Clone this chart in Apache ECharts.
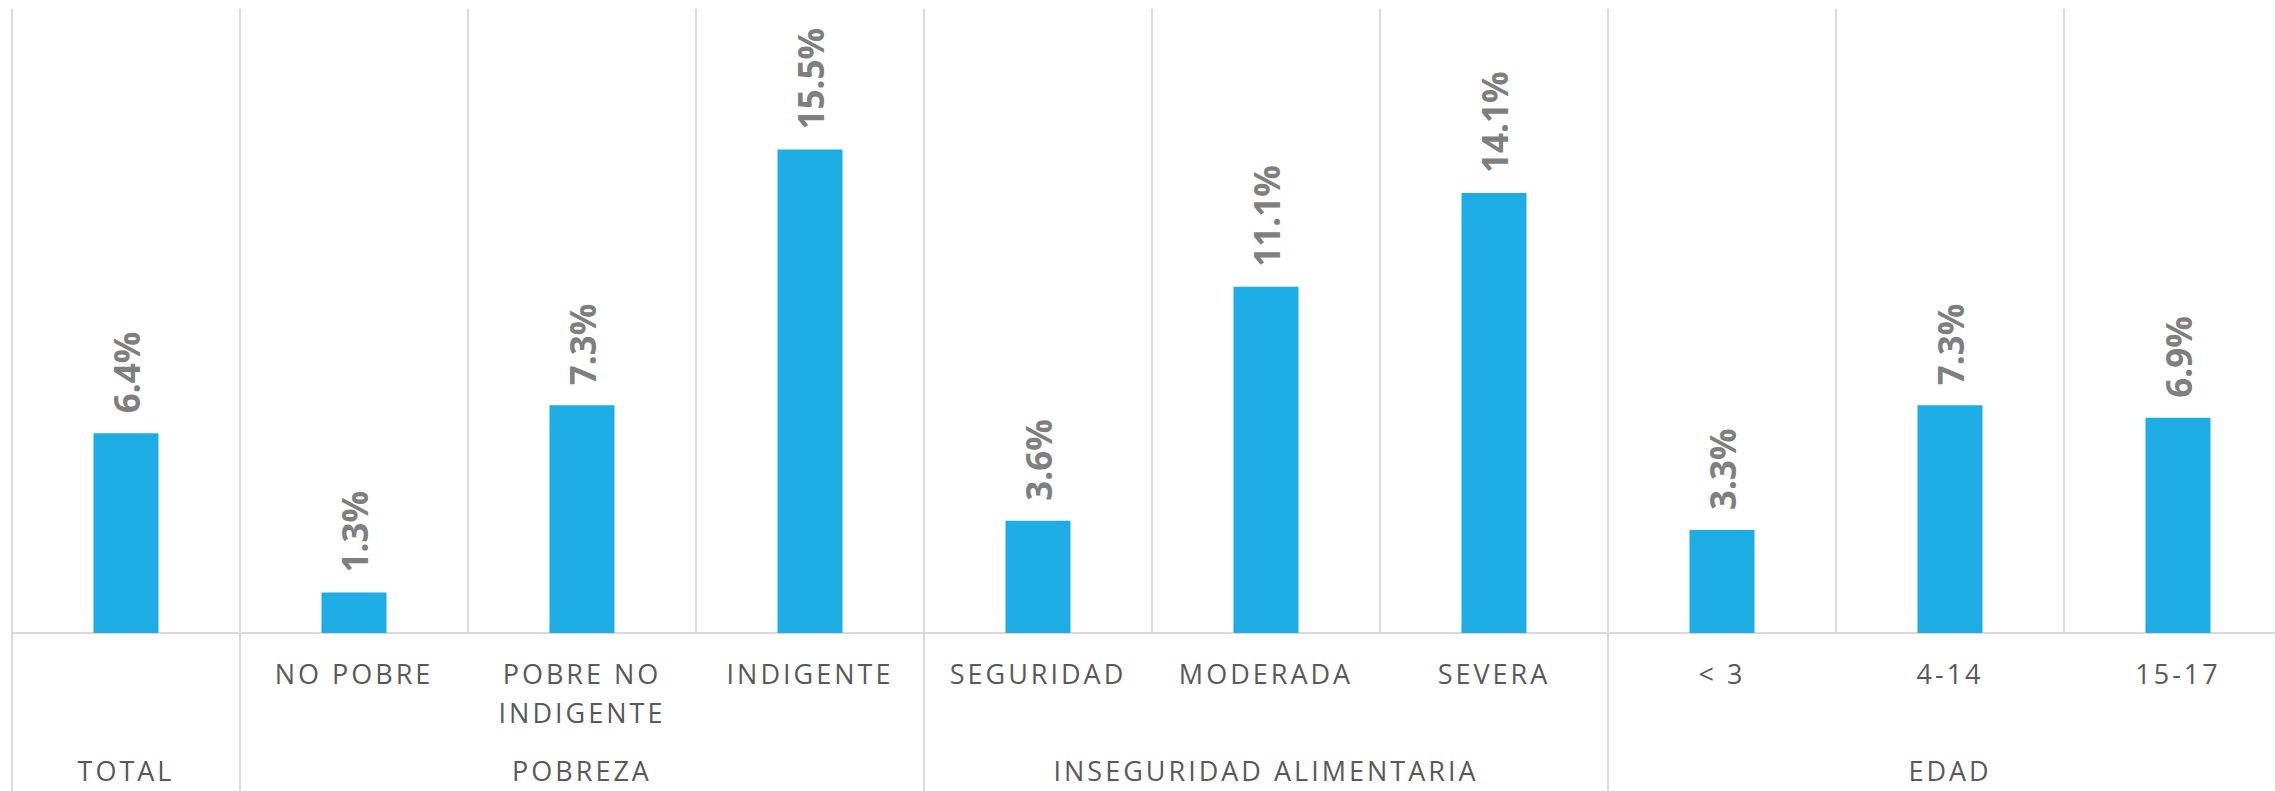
<!DOCTYPE html>
<html>
<head>
<meta charset="utf-8">
<script src="https://cdn.jsdelivr.net/npm/echarts@6/dist/echarts.min.js"></script>
<style>
  html, body {
    margin: 0;
    padding: 0;
    background: #fff;
  }
  #chart {
    width: 2275px;
    height: 791px;
  }
  /* category texts are spaced out, the bold value labels are not */
  #chart text {
    letter-spacing: 3px;
  }
  #chart text[style*="bold"] {
    letter-spacing: 0;
  }
</style>
</head>
<body>
<div id="chart"></div>
<script>
  // sub categories (first label row) and their values
  const subLabels = ['', 'NO POBRE', 'POBRE NO\nINDIGENTE', 'INDIGENTE', 'SEGURIDAD', 'MODERADA', 'SEVERA', '< 3', '4-14', '15-17']
  const values = [6.4, 1.3, 7.3, 15.5, 3.6, 11.1, 14.1, 3.3, 7.3, 6.9]

  // groups (second label row)
  const groupNames = ['TOTAL', 'POBREZA', 'INSEGURIDAD ALIMENTARIA', 'EDAD']
  const groupSizes = [1, 3, 3, 3]

  // group name goes under the middle category of each group
  let groupAxisData = []
  let groupStarts = []
  let start = 0
  groupSizes.forEach((size, g) => {
    groupStarts.push(start)
    for (let i = 0; i < size; i++) {
      groupAxisData.push(i === Math.floor(size / 2) ? groupNames[g] : '')
    }
    start += size
  })

  const lineColor = '#d9d9d9'
  const labelFont = '"Open Sans", sans-serif'

  const chart = echarts.init(document.getElementById('chart'), null, {renderer: 'svg'})

  const option = {
    animation: false,
    grid: {
      left: 12,
      top: 9,
      width: 2280,
      height: 624,
      containLabel: false,
      outerBoundsMode: 'none'
    },
    xAxis: [{
      type: 'category',
      data: subLabels,
      position: 'bottom',
      axisLine: {
        show: true,
        lineStyle: {color: lineColor, width: 2}
      },
      // ticks only at group borders, long enough to reach the bottom
      axisTick: {
        show: true,
        interval: (index) => groupStarts.indexOf(index) !== -1,
        length: 170,
        lineStyle: {color: lineColor, width: 2}
      },
      splitLine: {
        show: true,
        interval: 0,
        lineStyle: {color: lineColor, width: 2}
      },
      axisLabel: {
        interval: 0,
        margin: 21,
        color: '#595959',
        fontFamily: labelFont,
        fontSize: 27,
        lineHeight: 39
      }
    }, {
      type: 'category',
      data: groupAxisData,
      position: 'bottom',
      axisLine: {show: false},
      axisTick: {show: false},
      splitLine: {show: false},
      axisLabel: {
        interval: 0,
        margin: 123,
        color: '#595959',
        fontFamily: labelFont,
        fontSize: 27,
        lineHeight: 28
      }
    }],
    yAxis: {
      type: 'value',
      min: 0,
      max: 20,
      show: false,
      splitLine: {show: false}
    },
    series: [{
      type: 'bar',
      data: values,
      barWidth: 65,
      itemStyle: {
        color: '#1dace3'
      },
      label: {
        show: true,
        position: 'top',
        distance: 20,
        rotate: 90,
        align: 'left',
        verticalAlign: 'middle',
        color: '#7f7f7f',
        fontFamily: labelFont,
        fontWeight: 'bold',
        fontSize: 35,
        formatter: (p) => p.value.toFixed(1) + '%'
      }
    }]
  }

  chart.setOption(option)
</script>
</body>
</html>
